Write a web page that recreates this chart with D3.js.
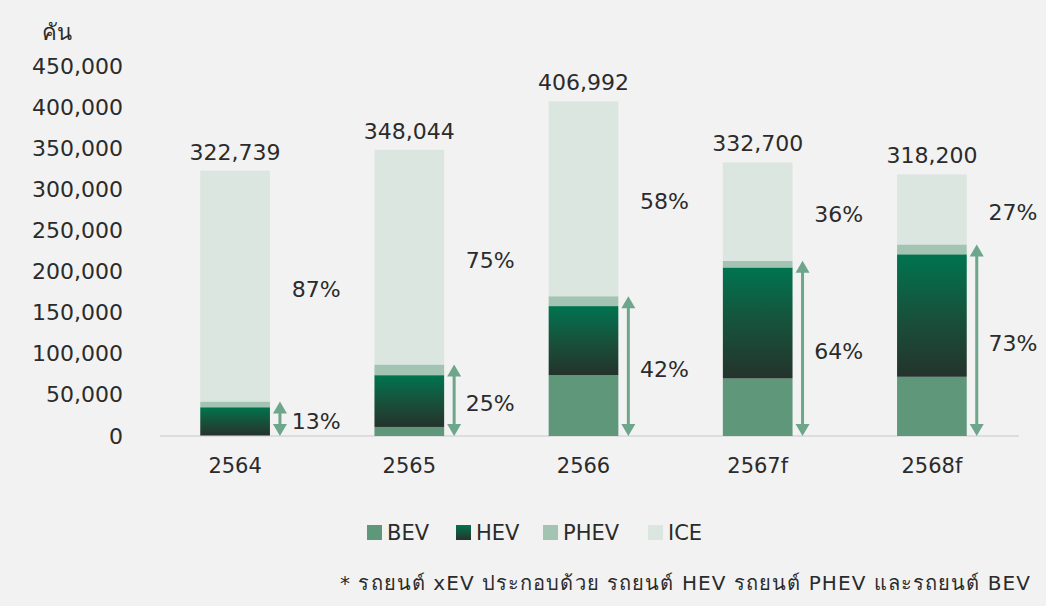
<!DOCTYPE html>
<head>
  <meta charset="utf-8">
  <script src="https://d3js.org/d3.v7.min.js"></script>
  <style>
body {
	margin:0;
	background:#f2f2f2;
	}
svg text {
	font-family: "DejaVu Sans", "Noto Sans", sans-serif;
	fill: #2b2b2b;
	}
  </style>
</head>

<body>
  <div id="graph"></div>
<script>
// Data (units: cars)
var years = ["2564", "2565", "2566", "2567f", "2568f"];
var totals = [322739, 348044, 406992, 332700, 318200];
var bev  = [1000, 11000, 74000, 70000, 72000];
var hev  = [34000, 63000, 84000, 135000, 149000];
var phev = [7000, 13000, 12000, 8000, 12000];
var xevShare = ["13%", "25%", "42%", "64%", "73%"];
var iceShare = ["87%", "75%", "58%", "36%", "27%"];
var yTicks = [0, 50000, 100000, 150000, 200000, 250000, 300000, 350000, 400000, 450000];
var seriesNames = ["BEV", "HEV", "PHEV", "ICE"];

var width = 1046, height = 606;
var margin = {top: 66, left: 148, right: 27, bottom: 170};
var plotW = width - margin.left - margin.right,
    plotH = height - margin.top - margin.bottom;

var colors = {BEV: "#5f977b", HEV: "url(#hevGrad)", PHEV: "#a3c4b3", ICE: "#dbe6e1"};
var arrowColor = "#6ea68b";

var svg = d3.select("#graph").append("svg")
    .attr("width", width)
    .attr("height", height);

var defs = svg.append("defs");
var grad = defs.append("linearGradient")
    .attr("id", "hevGrad")
    .attr("x1", 0).attr("y1", 0).attr("x2", 0).attr("y2", 1);
grad.append("stop").attr("offset", "0%").attr("stop-color", "#00744f");
grad.append("stop").attr("offset", "50%").attr("stop-color", "#17523c");
grad.append("stop").attr("offset", "100%").attr("stop-color", "#24332c");

var g = svg.append("g").attr("transform", "translate(" + margin.left + "," + margin.top + ")");

var x = d3.scaleBand().domain(years).range([0, plotW]).paddingInner(0.6).paddingOuter(0.3);
var y = d3.scaleLinear().domain([0, 450000]).range([plotH, 0]);

// build stacked rows
var rows = years.map(function(yr, i) {
  return {year: yr, BEV: bev[i], HEV: hev[i], PHEV: phev[i],
          ICE: totals[i] - bev[i] - hev[i] - phev[i], total: totals[i], i: i};
});
var stack = d3.stack().keys(seriesNames)(rows);

// y axis labels (no line)
var yaxis = g.append("g")
    .call(d3.axisLeft(y).tickValues(yTicks).tickSize(0).tickPadding(25)
      .tickFormat(d3.format(",")));
yaxis.select(".domain").remove();
yaxis.selectAll("text").style("font-size", "22px").style("fill", "#2b2b2b")
    .style("font-family", "'DejaVu Sans', sans-serif");

// unit label
g.append("text")
    .attr("x", -106).attr("y", -26)
    .style("font-size", "22px")
    .text("คัน");

// baseline
g.append("line")
    .attr("x1", 12).attr("x2", plotW)
    .attr("y1", y(0)).attr("y2", y(0))
    .style("stroke", "#d6d6d6").style("stroke-width", 1.5);

// bars
g.selectAll(".layer")
  .data(stack)
  .enter().append("g")
    .attr("class", "layer")
    .attr("fill", function(d) { return colors[d.key]; })
  .selectAll("rect")
  .data(function(d) { return d; })
  .enter().append("rect")
    .attr("x", function(d) { return x(d.data.year); })
    .attr("y", function(d) { return y(d[1]); })
    .attr("width", x.bandwidth())
    .attr("height", function(d) { return y(d[0]) - y(d[1]); });

// x axis labels
var xaxis = g.append("g")
    .attr("transform", "translate(0," + plotH + ")")
    .call(d3.axisBottom(x).tickSize(0).tickPadding(22));
xaxis.select(".domain").remove();
xaxis.selectAll("text").style("font-size", "21px").style("fill", "#2b2b2b")
    .style("font-family", "'DejaVu Sans', sans-serif");

// total labels
g.selectAll(".total")
  .data(rows)
  .enter().append("text")
    .attr("x", function(d) { return x(d.year) + x.bandwidth() / 2; })
    .attr("y", function(d) { return y(d.total) - 11; })
    .attr("text-anchor", "middle")
    .style("font-size", "22px")
    .text(function(d) { return d3.format(",")(d.total); });

// double arrows for xEV share
var arrowX = function(d) { return x(d.year) + x.bandwidth() + 10; };
var xevTop = function(d) { return y(d.BEV + d.HEV + d.PHEV); };
var arrows = g.selectAll(".arrow")
  .data(rows)
  .enter().append("g").attr("class", "arrow");
arrows.append("line")
    .attr("x1", arrowX).attr("x2", arrowX)
    .attr("y1", function(d) { return xevTop(d) + 8; })
    .attr("y2", y(0) - 8)
    .style("stroke", arrowColor).style("stroke-width", 3);
arrows.append("path")
    .attr("fill", arrowColor)
    .attr("d", function(d) {
      var ax = arrowX(d), t = xevTop(d);
      return "M" + ax + "," + t + "L" + (ax + 7) + "," + (t + 12) + "L" + (ax - 7) + "," + (t + 12) + "Z";
    });
arrows.append("path")
    .attr("fill", arrowColor)
    .attr("d", function(d) {
      var ax = arrowX(d), b = y(0);
      return "M" + ax + "," + b + "L" + (ax + 7) + "," + (b - 12) + "L" + (ax - 7) + "," + (b - 12) + "Z";
    });

// share labels
var labelX = function(d) { return x(d.year) + x.bandwidth() / 2 + 81; };
g.selectAll(".xevpct")
  .data(rows)
  .enter().append("text")
    .attr("x", labelX)
    .attr("y", function(d) { return (xevTop(d) + y(0)) / 2 + 3; })
    .attr("dy", "0.35em")
    .attr("text-anchor", "middle")
    .style("font-size", "22px")
    .text(function(d) { return xevShare[d.i]; });
g.selectAll(".icepct")
  .data(rows)
  .enter().append("text")
    .attr("x", labelX)
    .attr("y", function(d) { return (xevTop(d) + y(d.total)) / 2 + 3; })
    .attr("dy", "0.35em")
    .attr("text-anchor", "middle")
    .style("font-size", "22px")
    .text(function(d) { return iceShare[d.i]; });

// legend
var legendX = [367, 456, 543, 648];
var legend = svg.selectAll(".legend")
  .data(seriesNames)
  .enter().append("g")
    .attr("transform", function(d, i) { return "translate(" + legendX[i] + ",525)"; });
legend.append("rect")
    .attr("width", 15).attr("height", 15)
    .attr("fill", function(d) { return colors[d]; });
legend.append("text")
    .attr("x", 20).attr("y", 8).attr("dy", "0.35em")
    .style("font-size", "21px")
    .text(function(d) { return d; });

// footnote
svg.append("text")
    .attr("x", 340).attr("y", 583).attr("dy", "0.35em")
    .attr("textLength", 690)
    .attr("lengthAdjust", "spacing")
    .style("font-size", "20px")
    .text("* รถยนต์ xEV ประกอบด้วย รถยนต์ HEV รถยนต์ PHEV และรถยนต์ BEV");
</script>
</body>
